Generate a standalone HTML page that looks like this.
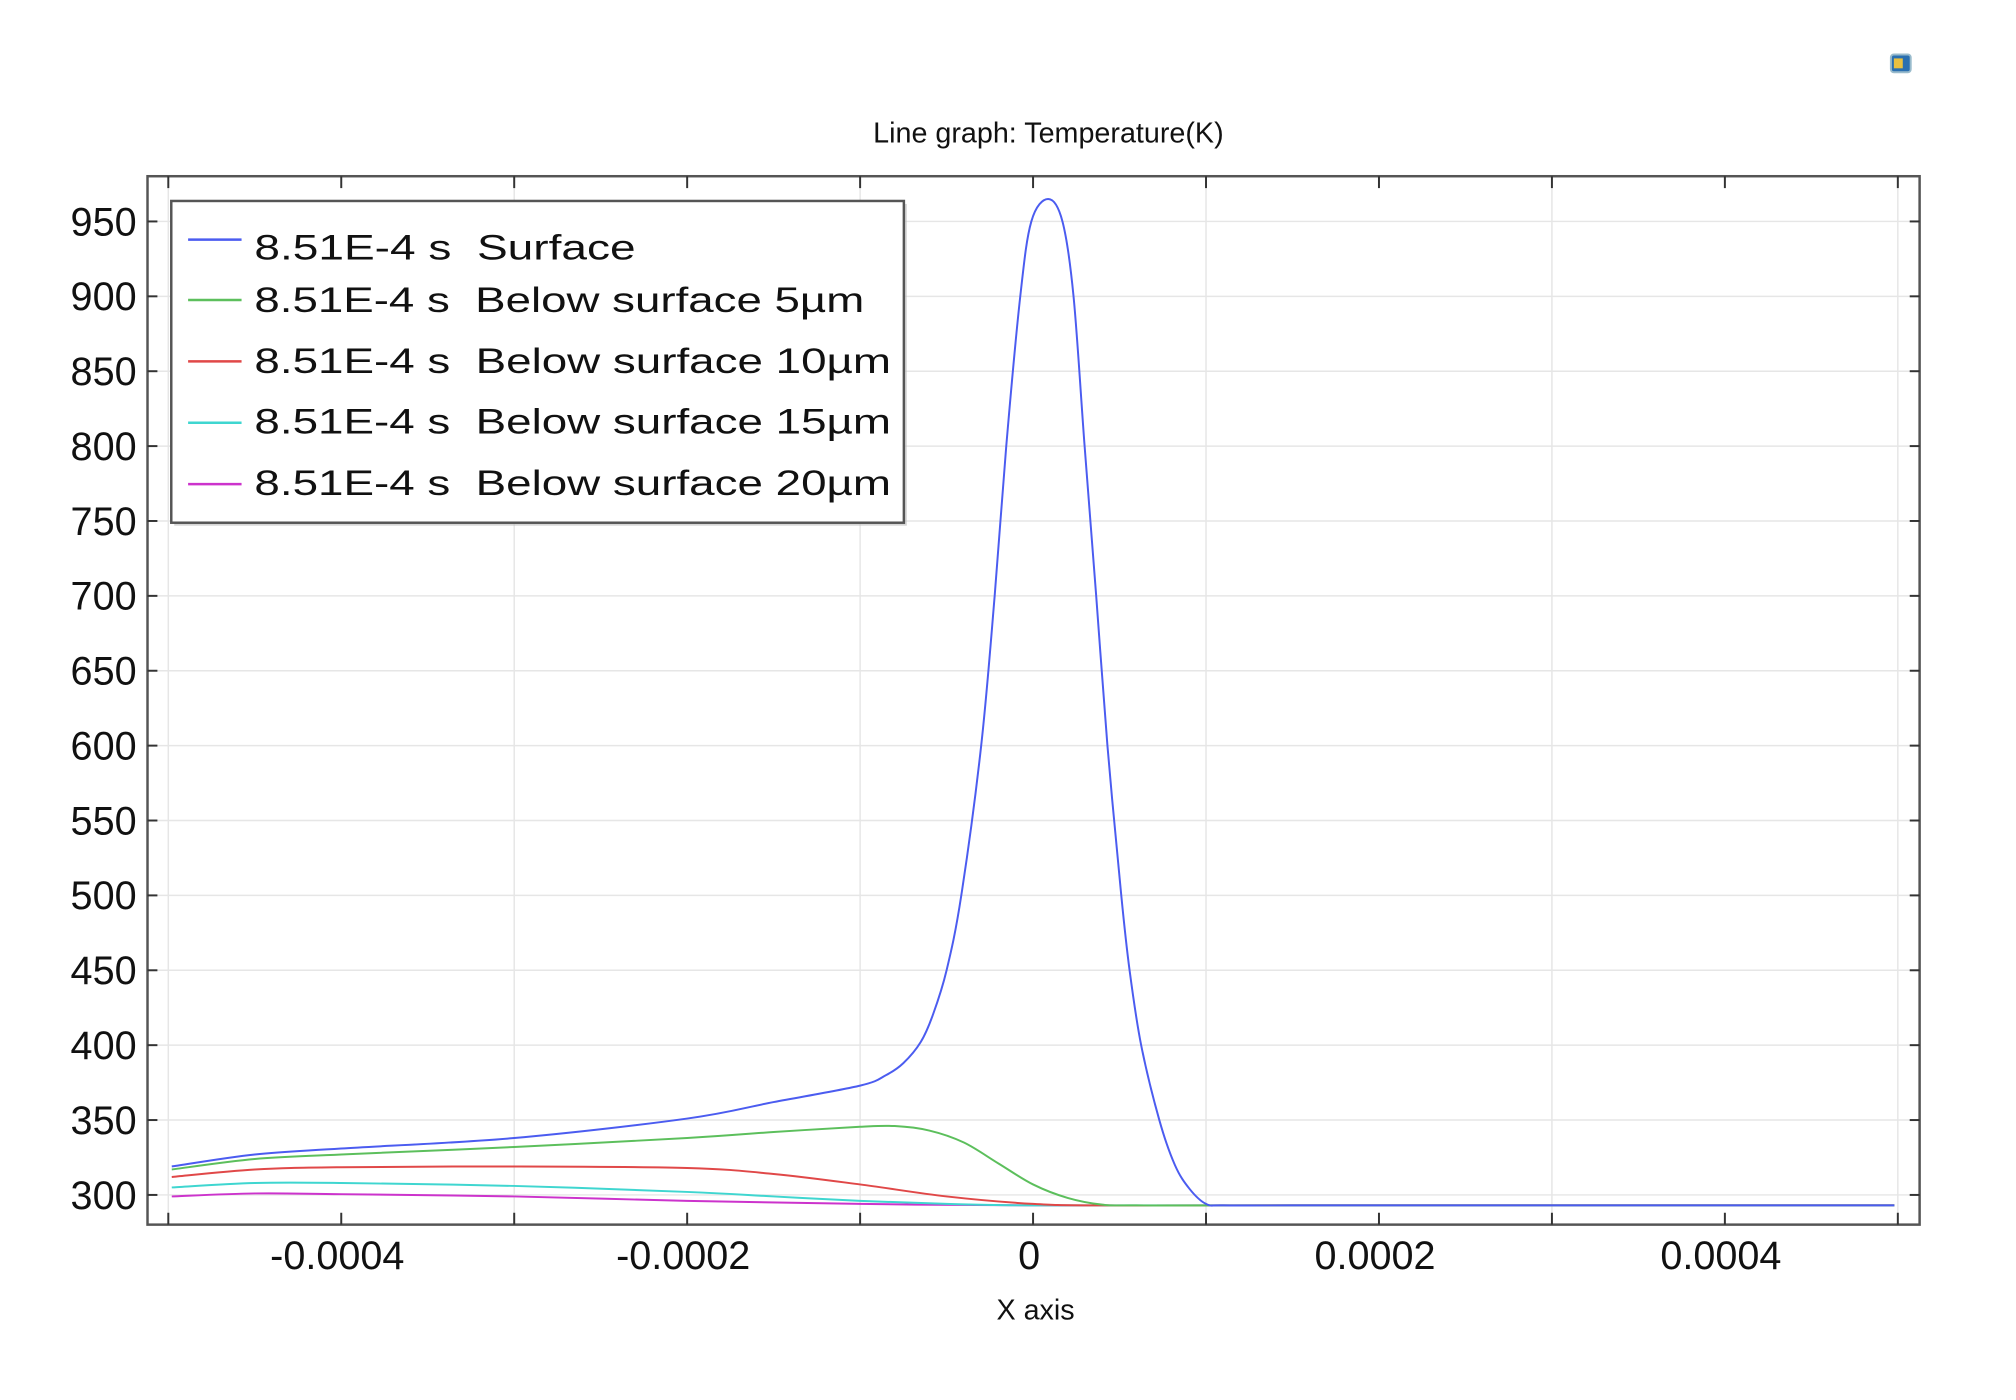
<!DOCTYPE html>
<html><head><meta charset="utf-8"><style>
html,body{margin:0;padding:0;background:#fff;}
svg{display:block;font-family:"Liberation Sans",sans-serif;}
</style></head><body>
<svg id="s" width="2016" height="1400" viewBox="0 0 2016 1400" xmlns="http://www.w3.org/2000/svg">
<rect width="2016" height="1400" fill="#fff"/>
<g transform="scale(0.99)">
<g id="grid" stroke="#e6e6e6" stroke-width="1.5"></g>
<g id="curves" fill="none" stroke-width="2"></g>
<rect x="149" y="178" width="1790" height="1059" fill="none" stroke="#555" stroke-width="2.5"/>
<g id="ticks" stroke="#333" stroke-width="2"></g>
<g id="labels" fill="#111" font-size="40"></g>
<text x="1059" y="144" font-size="29" text-anchor="middle" fill="#111">Line graph: Temperature(K)</text>
<text x="1046" y="1333" font-size="29" text-anchor="middle" fill="#111">X axis</text>
<rect x="1910" y="55" width="20" height="18" rx="3" fill="#2a6fb0" stroke="#9bc" stroke-width="2"/>
<rect x="1913" y="59" width="9" height="10" fill="#e8c040"/>
<rect x="176" y="206" width="740" height="325" fill="#bbb" opacity="0.6"/>
<rect x="173" y="203" width="740" height="325" fill="#fff" stroke="#555" stroke-width="2.5"/>
<g font-size="36" fill="#111">
<line x1="190" y1="242" x2="244" y2="242" stroke="#4b5cf0" stroke-width="2.5"/>
<text x="257" y="262" textLength="385" lengthAdjust="spacingAndGlyphs">8.51E-4 s&#160; Surface</text>
<line x1="190" y1="303" x2="244" y2="303" stroke="#5cbf5c" stroke-width="2.5"/>
<text x="257" y="315" textLength="616" lengthAdjust="spacingAndGlyphs">8.51E-4 s&#160; Below surface 5µm</text>
<line x1="190" y1="365" x2="244" y2="365" stroke="#e04848" stroke-width="2.5"/>
<text x="257" y="377" textLength="643" lengthAdjust="spacingAndGlyphs">8.51E-4 s&#160; Below surface 10µm</text>
<line x1="190" y1="427" x2="244" y2="427" stroke="#3fd6d0" stroke-width="2.5"/>
<text x="257" y="438" textLength="643" lengthAdjust="spacingAndGlyphs">8.51E-4 s&#160; Below surface 15µm</text>
<line x1="190" y1="489" x2="244" y2="489" stroke="#cc33cc" stroke-width="2.5"/>
<text x="257" y="500" textLength="643" lengthAdjust="spacingAndGlyphs">8.51E-4 s&#160; Below surface 20µm</text>
</g>
</g>
</svg>
<script>
var NS="http://www.w3.org/2000/svg";
function X(u){return 170+(u+5)*174.7;}
function Y(t){return 1207-(t-300)*1.5128;}
function el(p,tag,a,txt){var e=document.createElementNS(NS,tag);for(var k in a)e.setAttribute(k,a[k]);if(txt!=null)e.textContent=txt;document.getElementById(p).appendChild(e);}
for(var t=300;t<=950;t+=50){var y=Y(t);el("grid","line",{x1:149,y1:y,x2:1939,y2:y});
el("ticks","line",{x1:149,y1:y,x2:159,y2:y});el("ticks","line",{x1:1929,y1:y,x2:1939,y2:y});
el("labels","text",{x:138,y:y+14,"text-anchor":"end"},String(t));}
for(var u=-5;u<=5;u++){var x=X(u);if(u%2!=0)el("grid","line",{x1:x,y1:178,x2:x,y2:1237});
el("ticks","line",{x1:x,y1:1237,x2:x,y2:1225});el("ticks","line",{x1:x,y1:178,x2:x,y2:190});}
var lab={"-4":"-0.0004","-2":"-0.0002","0":"0","2":"0.0002","4":"0.0004"};
for(var k in lab)el("labels","text",{x:X(+k)-4,y:1282,"text-anchor":"middle"},lab[k]);
function path(pts){var P=pts.map(function(p){return[X(p[0]),Y(p[1])];});var d="M"+P[0][0]+","+P[0][1];
for(var i=0;i<P.length-1;i++){var p0=P[i-1]||P[i],p1=P[i],p2=P[i+1],p3=P[i+2]||P[i+1];
var c1=[p1[0]+(p2[0]-p0[0])/6,p1[1]+(p2[1]-p0[1])/6],c2=[p2[0]-(p3[0]-p1[0])/6,p2[1]-(p3[1]-p1[1])/6];
d+=" C"+c1+" "+c2+" "+p2;}return d;}
var S=[
["#4b5cf0",[[-4.98,319],[-4.5,327],[-4,331],[-3,338],[-2,351],[-1.5,362],[-1,373],[-0.85,380],[-0.75,388],[-0.65,402],[-0.58,420],[-0.5,450],[-0.415,500],[-0.3,600],[-0.222,700],[-0.155,800],[-0.074,900],[-0.01,950],[0.087,965],[0.17,950],[0.234,900],[0.298,800],[0.365,700],[0.43,600],[0.51,500],[0.558,450],[0.625,400],[0.73,350],[0.82,320],[0.905,304],[1.0,294],[1.1,293],[1.5,293],[3,293],[4.98,293]]],
["#5cbf5c",[[-4.98,317],[-4.5,324],[-4,327],[-3,332],[-2,338],[-1.5,342],[-1,345.5],[-0.8,346],[-0.6,343],[-0.4,335],[-0.2,321],[0,307],[0.2,298],[0.4,293.5],[0.6,293],[1.5,293],[4.98,293]]],
["#e04848",[[-4.98,312],[-4.5,317],[-4,318.5],[-3,319],[-2,318],[-1.5,314],[-1,307],[-0.5,299],[0,294],[0.4,293],[1.5,293],[4.98,293]]],
["#3fd6d0",[[-4.98,305],[-4.5,308],[-4,308],[-3,306],[-2,302],[-1.5,299],[-1,296],[-0.5,294],[0,293],[1.5,293],[4.98,293]]],
["#cc33cc",[[-4.98,299],[-4.5,301],[-4,300.5],[-3,299],[-2,296],[-1,294],[0,293],[1.5,293],[4.98,293]]]];
for(var i=S.length-1;i>=0;i--)el("curves","path",{d:path(S[i][1]),stroke:S[i][0]});
</script>
</body></html>
